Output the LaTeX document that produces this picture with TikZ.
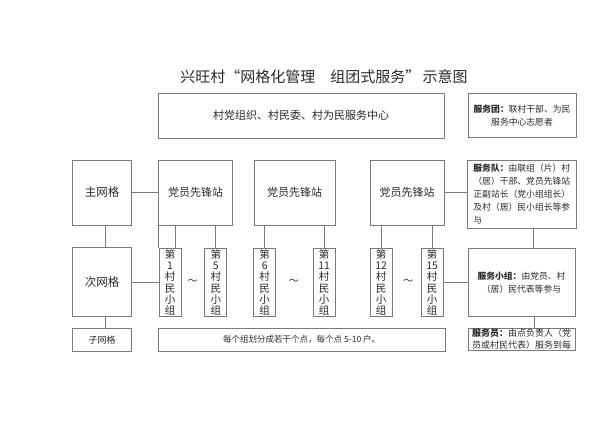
\documentclass[tikz,border=0pt]{standalone}
\usepackage{fontspec}
\setmainfont{Noto Sans CJK SC}
\definecolor{linegray}{HTML}{7A7A7A}
\definecolor{textgray}{HTML}{2A2A2A}
\tikzset{
  box/.style={draw=linegray, line width=0.8pt, rectangle, inner sep=0pt, outer sep=0pt, text=textgray},
  grp/.style={box, minimum width=22pt, minimum height=68pt, align=center, font=\fontsize{10.5}{11.3}\selectfont},
  zhanbox/.style={box, minimum height=65pt, font=\fontsize{11}{13}\selectfont},
  info/.style={box, font=\fontsize{8.8}{13}\selectfont},
  conn/.style={draw=linegray, line width=0.8pt},
  tld/.style={text=textgray, inner sep=0pt, font=\fontsize{10}{10}\selectfont}
}
\begin{document}
\begin{tikzpicture}[x=1pt, y=-1pt]
\useasboundingbox[fill=white] (0,0) rectangle (600,424);
% title
\node[text=textgray, inner sep=0pt, font=\fontsize{15}{16}\selectfont] (title) at (324,77) {兴旺村“网格化管理　组团式服务”\,示意图};
% top row
\node[box, minimum width=285.7pt, minimum height=45pt, font=\fontsize{11}{13}\selectfont] (top) at (301.2,115.8) {村党组织、村民委、村为民服务中心};
\node[info, minimum width=108pt, minimum height=44.4pt, align=center] (tuan) at (522,115.5) {\textbf{服务团：}联村干部、为民\\服务中心志愿者};
% main grid row
\node[box, minimum width=59pt, minimum height=65pt, font=\fontsize{11.5}{13}\selectfont] (zhu) at (102.2,192.5) {主网格};
\node[zhanbox, minimum width=74.4pt] (zhan1) at (195.5,192.5) {党员先锋站};
\node[zhanbox, minimum width=80.7pt] (zhan2) at (294.7,192.5) {党员先锋站};
\node[zhanbox, minimum width=74.3pt] (zhan3) at (407.2,192.5) {党员先锋站};
\node[info, minimum width=108.5pt, minimum height=68.3pt, align=left] (dui) at (521.8,194.2) {\textbf{服务队：}由联组（片）村\\（居）干部、党员先锋站\\正副站长（党小组组长）\\及村（居）民小组长等参\\与};
% sub grid row
\node[box, minimum width=59pt, minimum height=69pt, font=\fontsize{11.5}{13}\selectfont] (ci) at (102.2,282.2) {次网格};
\node[grp] (g1) at (170,282.3) {第\\1\\村\\民\\小\\组};
\node[grp] (g5) at (215.8,282.3) {第\\5\\村\\民\\小\\组};
\node[grp] (g6) at (264.7,282.3) {第\\6\\村\\民\\小\\组};
\node[grp] (g11) at (324.2,282.3) {第\\11\\村\\民\\小\\组};
\node[grp] (g12) at (381.2,282.3) {第\\12\\村\\民\\小\\组};
\node[grp] (g15) at (432.2,282.3) {第\\15\\村\\民\\小\\组};
\node[tld] (t1) at (192.7,282) {～};
\node[tld] (t2) at (293.8,282) {～};
\node[tld] (t3) at (408.3,282) {～};
\node[info, minimum width=107pt, minimum height=67.7pt, align=center] (xiaozu) at (521.5,282.2) {\textbf{服务小组：}由党员、村\\（居）民代表等参与};
% bottom row
\node[box, minimum width=59pt, minimum height=23.2pt, font=\fontsize{9}{11}\selectfont] (zi) at (102.2,340) {子网格};
\node[box, minimum width=286.7pt, minimum height=22.7pt, font=\fontsize{8.5}{10}\selectfont] (bot) at (301.7,339.7) {每个组划分成若干个点，每个点 5-10 户。};
\node[info, minimum width=107pt, minimum height=22.4pt, align=left, font=\fontsize{9}{12}\selectfont] (yuan) at (521.5,339.5) {\textbf{服务员：}由点负责人（党\\员或村民代表）服务到每};
% connectors
\draw[conn] (zhu.east) -- (zhan1.west);
\draw[conn] ([xshift=3pt]zhu.south) -- ([xshift=3pt]ci.north);
\draw[conn] ([xshift=3pt]ci.south) -- ([xshift=3pt]zi.north);
\draw[conn] (ci.east) -- (ci.east -| g1.west);
\draw[conn] (zhan1.south west) -- (zhan1.south west |- g1.north);
\draw[conn] ([xshift=5pt]g1.north) -- ([xshift=5pt]g1.north |- zhan1.south);
\draw[conn] (g5.north) -- (g5.north |- zhan1.south);
\draw[conn] (g6.north) -- (g6.north |- zhan2.south);
\draw[conn] (g11.north) -- (g11.north |- zhan2.south);
\draw[conn] (g12.north) -- (g12.north |- zhan3.south);
\draw[conn] (g15.north) -- (g15.north |- zhan3.south);
\draw[conn] (zhan3.east) -- (zhan3.east -| dui.west);
\draw[conn] ([xshift=12pt]dui.south) -- ([xshift=12pt]dui.south |- xiaozu.north);
\draw[conn] (g15.east) -- (g15.east -| xiaozu.west);
\draw[conn] ([xshift=12.5pt]xiaozu.south) -- ([xshift=12.5pt]xiaozu.south |- yuan.north);
\end{tikzpicture}
\end{document}
